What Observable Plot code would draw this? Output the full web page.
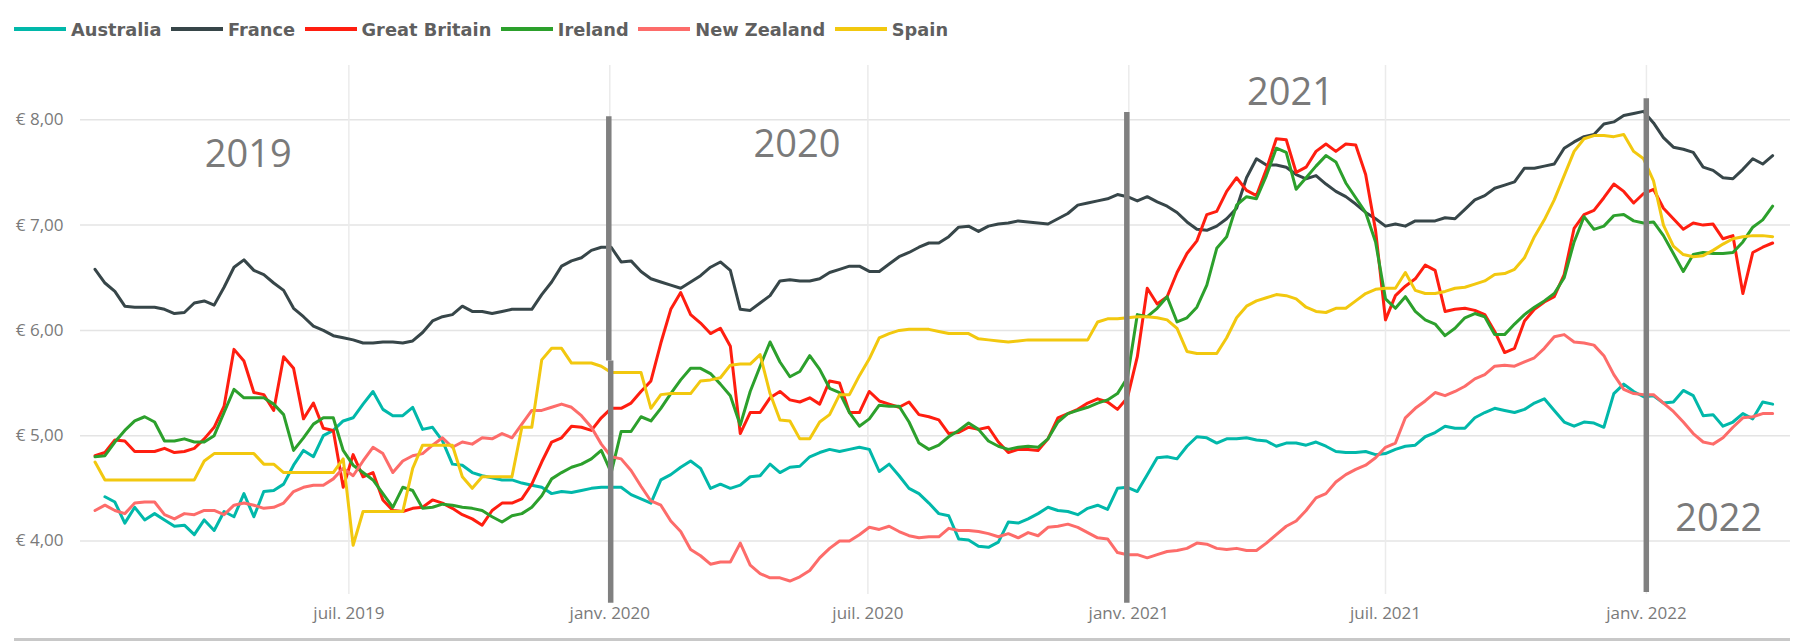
<!DOCTYPE html>
<html>
<head>
<meta charset="utf-8">
<script src="https://cdn.jsdelivr.net/npm/d3@7"></script>
<script src="https://cdn.jsdelivr.net/npm/@observablehq/plot@0.6"></script>
<style>
html, body { margin: 0; padding: 0; background: #fff; }
#wrap { position: relative; width: 1816px; height: 642px; overflow: hidden; background: #fff; }
#legend { height: 46px; position: relative; }
#legend .row { position: absolute; left: 14px; top: 18px; height: 22px; display: flex; align-items: center;
  font-family: "DejaVu Sans", sans-serif; font-weight: bold; font-size: 17.8px; color: #5f5f5f; white-space: nowrap; }
#legend .item { display: flex; align-items: center; margin-right: 9.5px; }
#legend .sw { width: 52px; height: 4px; margin-right: 5px; }
#chart svg { display: block; }
#sep { position: absolute; left: 14px; top: 638px; width: 1776px; height: 2.5px; background: #c8c8c8; }
</style>
</head>
<body>
<div id="wrap">
  <div id="legend"><div class="row"></div></div>
  <div id="chart"></div>
  <div id="sep"></div>
</div>
<script>
// ---------- DATA ----------
const countries = ["Australia", "France", "Great Britain", "Ireland", "New Zealand", "Spain"];
const colors = ["#01B8AA", "#374649", "#FF1E10", "#2CA02C", "#FD6C6A", "#F2C80F"];

// weekly observations, first week starting 2019-01-03
const firstWeek = "2019-01-03";

const australia = [
  null, 4.42, 4.37, 4.17, 4.32, 4.20, 4.26, 4.20, 4.14, 4.15,
  4.06, 4.20, 4.10, 4.28, 4.23, 4.45, 4.23, 4.47, 4.48, 4.54,
  4.72, 4.86, 4.80, 5.00, 5.05, 5.14, 5.17, 5.30, 5.42, 5.25,
  5.19, 5.19, 5.27, 5.06, 5.08, 4.95, 4.73, 4.72, 4.65, 4.62,
  4.60, 4.58, 4.58, 4.55, 4.53, 4.51, 4.45, 4.47, 4.46, 4.48,
  4.50, 4.51, 4.51, 4.51, 4.44, 4.40, 4.36, 4.58, 4.63, 4.70,
  4.76, 4.69, 4.50, 4.54, 4.50, 4.53, 4.61, 4.62, 4.73, 4.65,
  4.70, 4.71, 4.80, 4.84, 4.87, 4.85, 4.87, 4.89, 4.87, 4.66,
  4.73, 4.62, 4.50, 4.45, 4.36, 4.26, 4.24, 4.02, 4.01, 3.95,
  3.94, 3.99, 4.18, 4.17, 4.21, 4.26, 4.32, 4.29, 4.28, 4.25,
  4.31, 4.34, 4.30, 4.50, 4.51, 4.47, 4.63, 4.79, 4.80, 4.78,
  4.90, 4.99, 4.98, 4.93, 4.97, 4.97, 4.98, 4.96, 4.95, 4.90,
  4.93, 4.93, 4.91, 4.94, 4.90, 4.85, 4.84, 4.84, 4.85, 4.82,
  4.83, 4.87, 4.90, 4.91, 4.99, 5.03, 5.09, 5.07, 5.07, 5.17,
  5.22, 5.26, 5.24, 5.22, 5.25, 5.31, 5.35, 5.24, 5.13, 5.09,
  5.13, 5.12, 5.08, 5.40, 5.49, 5.42, 5.37, 5.38, 5.31, 5.32,
  5.43, 5.38, 5.19, 5.20, 5.09, 5.13, 5.21, 5.16, 5.32, 5.30
];

const france = [
  6.58, 6.45, 6.37, 6.23, 6.22, 6.22, 6.22, 6.20, 6.16, 6.17,
  6.26, 6.28, 6.24, 6.41, 6.60, 6.67, 6.57, 6.53, 6.45, 6.38,
  6.21, 6.13, 6.04, 6.00, 5.95, 5.93, 5.91, 5.88, 5.88, 5.89,
  5.89, 5.88, 5.90, 5.98, 6.09, 6.13, 6.15, 6.23, 6.18, 6.18,
  6.16, 6.18, 6.20, 6.20, 6.20, 6.34, 6.46, 6.61, 6.66, 6.69,
  6.76, 6.79, 6.79, 6.65, 6.66, 6.56, 6.49, 6.46, 6.43, 6.40,
  6.46, 6.52, 6.60, 6.65, 6.57, 6.20, 6.19, 6.26, 6.33, 6.47,
  6.48, 6.47, 6.47, 6.49, 6.55, 6.58, 6.61, 6.61, 6.56, 6.56,
  6.63, 6.70, 6.74, 6.79, 6.83, 6.83, 6.89, 6.98, 6.99, 6.94,
  6.99, 7.01, 7.02, 7.04, 7.03, 7.02, 7.01, 7.06, 7.11, 7.19,
  7.21, 7.23, 7.25, 7.29, 7.27, 7.23, 7.27, 7.22, 7.18, 7.12,
  7.03, 6.96, 6.95, 6.99, 7.06, 7.16, 7.45, 7.63, 7.57, 7.57,
  7.55, 7.48, 7.44, 7.47, 7.39, 7.32, 7.27, 7.20, 7.12, 7.06,
  6.99, 7.01, 6.99, 7.04, 7.04, 7.04, 7.07, 7.06, 7.15, 7.24,
  7.28, 7.35, 7.38, 7.41, 7.54, 7.54, 7.56, 7.58, 7.73, 7.79,
  7.84, 7.86, 7.96, 7.98, 8.04, 8.06, 8.08, 7.97, 7.83, 7.74,
  7.72, 7.69, 7.55, 7.52, 7.45, 7.44, 7.53, 7.63, 7.58, 7.66
];

const greatBritain = [
  4.81, 4.84, 4.96, 4.95, 4.85, 4.85, 4.85, 4.88, 4.84, 4.85,
  4.88, 4.97, 5.08, 5.28, 5.82, 5.71, 5.41, 5.39, 5.24, 5.75,
  5.64, 5.16, 5.31, 5.07, 5.05, 4.51, 4.82, 4.61, 4.65, 4.39,
  4.29, 4.28, 4.31, 4.32, 4.39, 4.36, 4.31, 4.25, 4.21, 4.15,
  4.29, 4.36, 4.36, 4.40, 4.54, 4.75, 4.94, 4.98, 5.09, 5.08,
  5.05, 5.17, 5.26, 5.26, 5.31, 5.42, 5.52, 5.88, 6.20, 6.36,
  6.15, 6.07, 5.97, 6.02, 5.85, 5.02, 5.22, 5.22, 5.36, 5.42,
  5.34, 5.32, 5.36, 5.30, 5.52, 5.50, 5.22, 5.22, 5.42, 5.33,
  5.30, 5.27, 5.32, 5.20, 5.18, 5.15, 5.02, 5.03, 5.08, 5.06,
  5.08, 4.94, 4.84, 4.87, 4.87, 4.86, 4.97, 5.17, 5.21, 5.25,
  5.31, 5.35, 5.32, 5.25, 5.36, 5.75, 6.40, 6.25, 6.32, 6.55,
  6.73, 6.85, 7.10, 7.13, 7.32, 7.45, 7.33, 7.28, 7.53, 7.82,
  7.81, 7.50, 7.55, 7.70, 7.77, 7.70, 7.77, 7.76, 7.48, 6.95,
  6.10, 6.33, 6.42, 6.49, 6.62, 6.57, 6.18, 6.20, 6.21, 6.19,
  6.15, 5.99, 5.79, 5.83, 6.09, 6.20, 6.27, 6.32, 6.53, 6.97,
  7.10, 7.14, 7.26, 7.39, 7.32, 7.21, 7.30, 7.34, 7.16, 7.06,
  6.96, 7.02, 7.00, 7.01, 6.87, 6.90, 6.35, 6.74, 6.79, 6.83
];

const ireland = [
  4.80, 4.81, 4.94, 5.05, 5.14, 5.18, 5.13, 4.95, 4.95, 4.97,
  4.94, 4.94, 5.00, 5.22, 5.44, 5.36, 5.36, 5.36, 5.30, 5.20,
  4.86, 4.98, 5.11, 5.17, 5.17, 4.86, 4.72, 4.65, 4.58, 4.45,
  4.32, 4.51, 4.48, 4.31, 4.32, 4.35, 4.34, 4.32, 4.31, 4.29,
  4.23, 4.18, 4.24, 4.26, 4.32, 4.43, 4.59, 4.65, 4.70, 4.73,
  4.78, 4.86, 4.65, 5.04, 5.04, 5.18, 5.14, 5.26, 5.40, 5.53,
  5.64, 5.64, 5.59, 5.49, 5.38, 5.10, 5.42, 5.66, 5.89, 5.70,
  5.56, 5.61, 5.76, 5.63, 5.45, 5.41, 5.22, 5.09, 5.16, 5.29,
  5.28, 5.28, 5.13, 4.93, 4.87, 4.91, 4.99, 5.05, 5.12, 5.06,
  4.95, 4.90, 4.87, 4.89, 4.90, 4.89, 4.97, 5.13, 5.21, 5.24,
  5.27, 5.31, 5.34, 5.40, 5.55, 6.15, 6.13, 6.21, 6.32, 6.08,
  6.12, 6.22, 6.43, 6.78, 6.89, 7.19, 7.27, 7.25, 7.47, 7.73,
  7.69, 7.34, 7.45, 7.56, 7.66, 7.60, 7.40, 7.26, 7.12, 6.84,
  6.30, 6.21, 6.32, 6.18, 6.10, 6.06, 5.95, 6.02, 6.12, 6.16,
  6.13, 5.96, 5.96, 6.06, 6.15, 6.22, 6.28, 6.35, 6.50, 6.84,
  7.08, 6.96, 6.99, 7.09, 7.10, 7.04, 7.02, 7.03, 6.90, 6.73,
  6.56, 6.72, 6.74, 6.73, 6.73, 6.74, 6.84, 6.98, 7.05, 7.18
];

const newZealand = [
  4.29, 4.34, 4.29, 4.26, 4.36, 4.37, 4.37, 4.25, 4.21, 4.26,
  4.25, 4.29, 4.29, 4.25, 4.34, 4.36, 4.34, 4.31, 4.32, 4.36,
  4.47, 4.51, 4.53, 4.53, 4.59, 4.69, 4.62, 4.76, 4.89, 4.83,
  4.65, 4.76, 4.81, 4.83, 4.91, 4.98, 4.89, 4.94, 4.92, 4.98,
  4.97, 5.02, 4.98, 5.11, 5.24, 5.24, 5.27, 5.30, 5.27, 5.19,
  5.08, 4.92, 4.80, 4.78, 4.67, 4.52, 4.38, 4.34, 4.19, 4.09,
  3.92, 3.86, 3.78, 3.80, 3.80, 3.98, 3.77, 3.69, 3.65, 3.65,
  3.62, 3.66, 3.72, 3.84, 3.93, 4.00, 4.00, 4.06, 4.13, 4.11,
  4.14, 4.09, 4.05, 4.03, 4.04, 4.04, 4.12, 4.10, 4.10, 4.09,
  4.07, 4.04, 4.07, 4.03, 4.08, 4.05, 4.13, 4.14, 4.16, 4.13,
  4.08, 4.03, 4.02, 3.89, 3.87, 3.87, 3.84, 3.87, 3.90, 3.91,
  3.93, 3.98, 3.97, 3.93, 3.92, 3.93, 3.91, 3.91, 3.98, 4.06,
  4.14, 4.19, 4.29, 4.41, 4.45, 4.56, 4.63, 4.68, 4.72, 4.79,
  4.89, 4.93, 5.17, 5.26, 5.33, 5.41, 5.38, 5.42, 5.47, 5.54,
  5.58, 5.66, 5.67, 5.66, 5.70, 5.74, 5.83, 5.94, 5.96, 5.89,
  5.88, 5.86, 5.76, 5.58, 5.44, 5.40, 5.39, 5.39, 5.31, 5.23,
  5.13, 5.02, 4.94, 4.92, 4.98, 5.08, 5.17, 5.18, 5.21, 5.21
];

const spain = [
  4.75, 4.58, 4.58, 4.58, 4.58, 4.58, 4.58, 4.58, 4.58, 4.58,
  4.58, 4.76, 4.83, 4.83, 4.83, 4.83, 4.83, 4.73, 4.73, 4.65,
  4.65, 4.65, 4.65, 4.65, 4.65, 4.78, 3.96, 4.28, 4.28, 4.28,
  4.28, 4.28, 4.69, 4.91, 4.91, 4.91, 4.91, 4.61, 4.50, 4.61,
  4.61, 4.61, 4.61, 5.08, 5.08, 5.72, 5.83, 5.83, 5.69, 5.69,
  5.69, 5.66, 5.60, 5.60, 5.60, 5.60, 5.26, 5.39, 5.40, 5.40,
  5.40, 5.52, 5.53, 5.55, 5.67, 5.68, 5.68, 5.77, 5.40, 5.15,
  5.14, 4.97, 4.97, 5.13, 5.20, 5.39, 5.39, 5.57, 5.73, 5.93,
  5.97, 6.00, 6.01, 6.01, 6.01, 5.99, 5.97, 5.97, 5.97, 5.92,
  5.91, 5.90, 5.89, 5.90, 5.91, 5.91, 5.91, 5.91, 5.91, 5.91,
  5.91, 6.08, 6.11, 6.11, 6.12, 6.13, 6.13, 6.12, 6.10, 6.02,
  5.80, 5.78, 5.78, 5.78, 5.93, 6.12, 6.23, 6.28, 6.31, 6.34,
  6.33, 6.30, 6.22, 6.18, 6.17, 6.21, 6.21, 6.28, 6.35, 6.39,
  6.40, 6.40, 6.55, 6.38, 6.35, 6.35, 6.37, 6.40, 6.41, 6.44,
  6.47, 6.53, 6.54, 6.58, 6.69, 6.89, 7.05, 7.24, 7.47, 7.70,
  7.82, 7.85, 7.85, 7.84, 7.86, 7.70, 7.63, 7.42, 7.00, 6.80,
  6.72, 6.70, 6.71, 6.76, 6.82, 6.87, 6.89, 6.90, 6.90, 6.89
];

const series = [australia, france, greatBritain, ireland, newZealand, spain];

const yTicks = [4, 5, 6, 7, 8];
const xTickDates = ["2019-07-01", "2020-01-01", "2020-07-01", "2021-01-01", "2021-07-01", "2022-01-01"];
const xTickLabels = ["juil. 2019", "janv. 2020", "juil. 2020", "janv. 2021", "juil. 2021", "janv. 2022"];

// year annotations
const yearLabels = ["2019", "2020", "2021", "2022"];
const yearDates = ["2019-04-21", "2020-05-12", "2021-04-25", "2022-02-21"];
const yearValues = [7.67, 7.76, 8.26, 4.21];

// thick grey separator lines at each new year
const sepDates = ["2019-12-31T07:00", "2020-01-01T15:00", "2020-12-30T14:00", "2021-12-31T22:00"];
const sepTops = [8.03, 5.71, 8.07, 8.20];
const sepBottoms = [5.71, 3.41, 3.41, 3.51];

// ---------- BUILD ----------
const start = new Date(firstWeek + "T00:00Z");
const rows = [];
countries.forEach((c, ci) => {
  series[ci].forEach((v, i) => {
    rows.push({country: c, date: d3.utcDay.offset(start, 7 * i), value: v});
  });
});
const years = yearLabels.map((t, i) => ({label: t, date: new Date(yearDates[i] + "T00:00Z"), value: yearValues[i]}));
const seps = sepDates.map((d, i) => ({date: new Date(d + "Z"), top: sepTops[i], bottom: sepBottoms[i]}));
const xTicks = xTickDates.map(d => new Date(d + "T00:00Z"));
const labelOf = new Map(xTicks.map((d, i) => [+d, xTickLabels[i]]));

// layout calibration (pixel anchors of the frame)
const W = 1816, H = 596, mL = 80, mR = 26, mT = 19, mB = 48;
const t0 = Date.UTC(2020, 0, 1), p0 = 609.3, t1 = Date.UTC(2021, 6, 1), p1 = 1385;
const msPerPx = (t1 - t0) / (p1 - p0);
const xDomain = [new Date(t0 - (p0 - mL) * msPerPx), new Date(t0 + (W - mR - p0) * msPerPx)];
const pxPerEuro = 105.3, y8 = 73.3; // svg y of 8.00
const yDomain = [8 - (H - mB - y8) / pxPerEuro, 8 + (y8 - mT) / pxPerEuro];

// legend
const row = document.querySelector("#legend .row");
countries.forEach((c, i) => {
  const it = document.createElement("div");
  it.className = "item";
  const sw = document.createElement("div");
  sw.className = "sw";
  sw.style.background = colors[i];
  const tx = document.createElement("span");
  tx.textContent = c;
  it.appendChild(sw); it.appendChild(tx);
  row.appendChild(it);
});

const chart = Plot.plot({
  width: W, height: H,
  marginLeft: mL, marginRight: mR, marginTop: mT, marginBottom: mB,
  style: {fontFamily: "'Open Sans', sans-serif", fontSize: "17px", color: "#7a7a7a", background: "#fff", overflow: "visible"},
  x: {type: "utc", domain: xDomain},
  y: {domain: yDomain},
  color: {domain: countries, range: colors},
  marks: [
    Plot.gridY(yTicks, {stroke: "#e4e4e4", strokeOpacity: 1, strokeWidth: 1.5}),
    Plot.gridX(xTicks, {stroke: "#ebebeb", strokeOpacity: 1, strokeWidth: 1.5}),
    Plot.axisY(yTicks, {tickSize: 0, tickPadding: 17, label: null, fontSize: 17,
      tickFormat: d => "€ " + d.toFixed(2).replace(".", ",")}),
    Plot.axisX(xTicks, {tickSize: 0, tickPadding: 12.7, label: null, fontSize: 17,
      tickFormat: d => labelOf.get(+d)}),
    Plot.lineY(rows, {x: "date", y: "value", z: "country", stroke: "country",
      strokeWidth: 3, strokeLinejoin: "round", strokeLinecap: "round"}),
    Plot.ruleX(seps, {x: "date", y1: "top", y2: "bottom", stroke: "#808080", strokeWidth: 5.5}),
    Plot.text(years, {x: "date", y: "value", text: "label", fontSize: 38, fill: "#7a7a7a",
      fontFamily: "'Open Sans', sans-serif"})
  ]
});
document.getElementById("chart").appendChild(chart);
</script>
</body>
</html>
